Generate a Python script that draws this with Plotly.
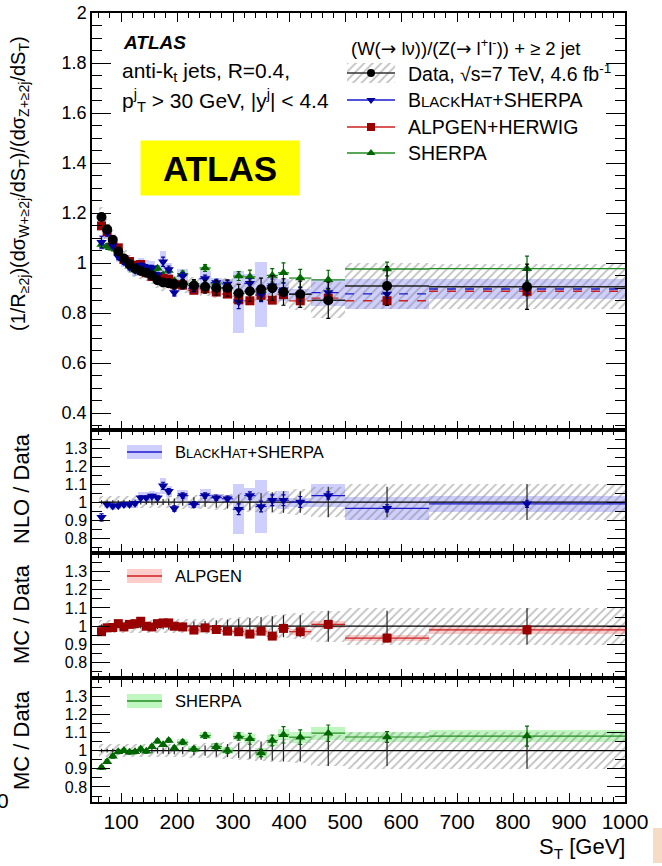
import numpy as np
import plotly.graph_objects as go

# ---------------- data ----------------
st_edges = [60, 70, 80, 90, 100, 110, 120, 130, 140, 150, 160, 170, 180, 190, 200,
            220, 240, 260, 280, 300, 320, 340, 360, 380, 400, 440, 500, 650, 1000]

data_vals = [1.184, 1.135, 1.093, 1.046, 1.018, 0.996, 0.978, 0.968, 0.961, 0.95,
             0.931, 0.922, 0.919, 0.915, 0.915, 0.91, 0.905, 0.9, 0.9, 0.879,
             0.887, 0.895, 0.9, 0.884, 0.875, 0.851, 0.908, 0.905]
data_stat_rel = [0.01, 0.01, 0.01, 0.01, 0.01, 0.011, 0.012, 0.013, 0.014, 0.015,
                 0.016, 0.017, 0.018, 0.02, 0.02, 0.026, 0.028, 0.032, 0.036, 0.04,
                 0.045, 0.05, 0.055, 0.06, 0.06, 0.085, 0.085, 0.1]
data_tot_rel = [0.035, 0.035, 0.035, 0.035, 0.035, 0.035, 0.035, 0.035, 0.035, 0.035,
                0.035, 0.035, 0.035, 0.035, 0.037, 0.038, 0.04, 0.043, 0.046, 0.05,
                0.053, 0.056, 0.06, 0.064, 0.07, 0.085, 0.1, 0.1]

nlo_over_data = [0.915, 0.987, 0.978, 0.98, 0.987, 0.987, 0.993, 1.024, 1.024, 1.033,
                 1.024, 1.09, 1.06, 0.964, 1.036, 0.987, 1.036, 1.024, 1.018, 0.96,
                 1.036, 0.975, 1.01, 1.01, 1.0, 1.036, 0.965, 0.99]
nlo_band = [0.025, 0.02, 0.02, 0.02, 0.02, 0.02, 0.025, 0.03, 0.03, 0.03,
            0.03, 0.045, 0.03, 0.02, 0.03, 0.02, 0.035, 0.02, 0.02, 0.14,
            0.04, 0.145, 0.04, 0.05, 0.025, 0.065, 0.065, 0.045]
nlo_err = [0.02, 0.01, 0.01, 0.01, 0.01, 0.01, 0.01, 0.01, 0.01, 0.01,
           0.01, 0.02, 0.015, 0.015, 0.015, 0.015, 0.015, 0.015, 0.015, 0.03,
           0.02, 0.03, 0.03, 0.03, 0.03, 0.02, 0.02, 0.02]

alp_over_data = [0.97, 0.991, 0.993, 1.014, 0.996, 1.01, 1.014, 1.027, 1.0, 0.996,
                 1.014, 1.018, 1.018, 1.0, 0.996, 0.979, 0.991, 0.982, 0.973, 0.97,
                 0.957, 0.973, 0.946, 0.988, 0.97, 1.01, 0.935, 0.98]
alp_band = [0.012] * 14 + [0.013, 0.013, 0.013, 0.014, 0.014, 0.015,
                           0.015, 0.015, 0.016, 0.016, 0.016, 0.02, 0.015, 0.02]
alp_err = [0.01] * 14 + [0.01, 0.01, 0.012, 0.012, 0.012, 0.014,
                         0.014, 0.015, 0.015, 0.016, 0.016, 0.02, 0.02, 0.02]

sh_over_data = [0.907, 0.939, 0.969, 0.994, 1.0, 0.991, 0.994, 1.009, 0.996, 1.022,
                1.052, 1.033, 1.056, 1.015, 1.046, 1.009, 1.083, 1.022, 1.0, 1.078,
                1.065, 0.987, 1.056, 1.087, 1.074, 1.096, 1.075, 1.08]
sh_band = [0.015] * 14 + [0.018, 0.018, 0.02, 0.02, 0.02, 0.022,
                          0.025, 0.025, 0.028, 0.03, 0.03, 0.035, 0.03, 0.035]
sh_err = [0.01] * 14 + [0.012, 0.012, 0.015, 0.015, 0.015, 0.02,
                        0.03, 0.02, 0.03, 0.045, 0.04, 0.045, 0.03, 0.055]

main_yticks = [0.4, 0.6, 0.8, 1.0, 1.2, 1.4, 1.6, 1.8, 2.0]
main_yticktext = ["0.4", "0.6", "0.8", "1", "1.2", "1.4", "1.6", "1.8", "2"]
ratio_yticks = [0.8, 0.9, 1.0, 1.1, 1.2, 1.3]
ratio_yticktext = ["0.8", "0.9", "1", "1.1", "1.2", "1.3"]
x_ticks = [100, 200, 300, 400, 500, 600, 700, 800, 900, 1000]

# ---------------- helpers ----------------
edges = np.array(st_edges, dtype=float)
centers = 0.5 * (edges[:-1] + edges[1:])
widths = edges[1:] - edges[:-1]
data = np.array(data_vals)

FONT = "Liberation Sans, Arial, Helvetica, sans-serif"
W, H = 662, 866
L, R, T, B = 92, 37, 13, 64
PW, PH = W - L - R, H - T - B


def px(xp):
    return (xp - L) / PW


def py(yp):
    return (H - B - yp) / PH


def segs(vals):
    xs, ys = [], []
    for lo, hi, v in zip(edges[:-1], edges[1:], vals):
        xs += [lo, hi, None]
        ys += [v, v, None]
    return xs, ys


BLUE_M = "#0000a0"
BLUE_L = "#1a1acc"
BLUE_B = "rgba(175,175,255,0.6)"
RED_M = "#990000"
RED_L = "#cc2020"
RED_B = "rgba(255,170,170,0.6)"
GRN_M = "#006600"
GRN_L = "#228b22"
GRN_B = "rgba(150,240,150,0.6)"
HATCH = dict(shape="/", fgcolor="#808080", bgcolor="rgba(0,0,0,0)", size=6, solidity=0.3)

fig = go.Figure()


def band(xa, ya, center, half, color=None, hatch=False):
    center = np.asarray(center)
    half = np.asarray(half)
    marker = dict(line=dict(width=0))
    if hatch:
        marker["color"] = "rgba(0,0,0,0)"
        marker["pattern"] = HATCH
    else:
        marker["color"] = color
    fig.add_trace(go.Bar(x=centers, width=widths, base=center - half, y=2 * half,
                         marker=marker, xaxis=xa, yaxis=ya, showlegend=False,
                         hoverinfo="skip"))


def hlines(xa, ya, vals, color, dash="solid", w=1.3):
    xs, ys = segs(vals)
    fig.add_trace(go.Scatter(x=xs, y=ys, mode="lines", line=dict(color=color, width=w, dash=dash),
                             xaxis=xa, yaxis=ya, showlegend=False, hoverinfo="skip"))


def pts(xa, ya, vals, errs, color, symbol, size=9, ecolor=None, ewidth=2):
    fig.add_trace(go.Scatter(x=centers, y=vals, mode="markers",
                             marker=dict(color=color, symbol=symbol, size=size, line=dict(width=0)),
                             error_y=dict(type="data", array=list(errs), visible=True,
                                          color=ecolor or color, thickness=1.2, width=ewidth),
                             xaxis=xa, yaxis=ya, showlegend=False, hoverinfo="skip"))


# ---------------- main panel ----------------
nlo_main = data * np.array(nlo_over_data)
alp_main = data * np.array(alp_over_data)
sh_main = data * np.array(sh_over_data)

band("x", "y", nlo_main, data * np.array(nlo_band), color=BLUE_B)
band("x", "y", data, data * np.array(data_tot_rel), hatch=True)
hlines("x", "y", sh_main, GRN_L)
hlines("x", "y", alp_main, RED_L, dash="dash")
hlines("x", "y", nlo_main, BLUE_L, dash="dash")
hlines("x", "y", data, "#222222", w=1.5)
pts("x", "y", sh_main, data * np.array(sh_err), GRN_M, "triangle-up", 9)
pts("x", "y", alp_main, data * np.array(alp_err), RED_M, "square", 9)
pts("x", "y", nlo_main, data * np.array(nlo_err), BLUE_M, "triangle-down", 9)
pts("x", "y", data, data * np.array(data_stat_rel), "black", "circle", 10)

# ---------------- ratio panels ----------------
ones = np.ones(len(centers))
for (xa, ya, rat, bnd, err, mc, lc, bc, sym) in [
    ("x2", "y2", nlo_over_data, nlo_band, nlo_err, BLUE_M, BLUE_L, BLUE_B, "triangle-down"),
    ("x3", "y3", alp_over_data, alp_band, alp_err, RED_M, RED_L, RED_B, "square"),
    ("x4", "y4", sh_over_data, sh_band, sh_err, GRN_M, GRN_L, GRN_B, "triangle-up"),
]:
    band(xa, ya, rat, bnd, color=bc)
    band(xa, ya, ones, data_tot_rel, hatch=True)
    fig.add_trace(go.Scatter(x=[edges[0], edges[-1]], y=[1, 1], mode="lines",
                             line=dict(color="black", width=1.2), xaxis=xa, yaxis=ya,
                             showlegend=False, hoverinfo="skip"))
    fig.add_trace(go.Scatter(x=centers, y=ones, mode="markers", marker=dict(size=1, color="rgba(0,0,0,0)"),
                             error_y=dict(type="data", array=list(data_stat_rel), visible=True,
                                          color="#222222", thickness=1.2, width=0),
                             xaxis=xa, yaxis=ya, showlegend=False, hoverinfo="skip"))
    hlines(xa, ya, rat, lc, w=1.2)
    pts(xa, ya, rat, err, mc, sym, 9)

# ---------------- main legend (overlay axis in panel fractions) ----------------
def fx(xp):
    return (xp - L) / PW


def fy(yp):
    return (430 - yp) / (430 - T)


leg_x0, leg_x1, leg_xc = fx(347), fx(395), fx(371)
fig.add_trace(go.Bar(x=[leg_xc], width=[leg_x1 - leg_x0], base=[fy(83)], y=[fy(63) - fy(83)],
                     marker=dict(color="rgba(0,0,0,0)", pattern=HATCH, line=dict(width=0)),
                     xaxis="x5", yaxis="y5", showlegend=False, hoverinfo="skip"))
for yy, col, lcol, sym, sz in [(73, "black", "#333333", "circle", 8),
                               (100, BLUE_M, BLUE_L, "triangle-down", 8),
                               (127, RED_M, RED_L, "square", 8),
                               (153, GRN_M, GRN_L, "triangle-up", 8)]:
    fig.add_trace(go.Scatter(x=[leg_x0, leg_x1], y=[fy(yy), fy(yy)], mode="lines",
                             line=dict(color=lcol, width=1.3), xaxis="x5", yaxis="y5",
                             showlegend=False, hoverinfo="skip"))
    fig.add_trace(go.Scatter(x=[leg_xc], y=[fy(yy)], mode="markers",
                             marker=dict(color=col, symbol=sym, size=sz),
                             xaxis="x5", yaxis="y5", showlegend=False, hoverinfo="skip"))

# ---------------- layout ----------------
D_MAIN = [py(430), 1.0]
D_R1 = [py(553), py(430)]
D_R2 = [py(678), py(553)]
D_R3 = [0.0, py(678)]

common_x = dict(range=[48, 1000], ticks="inside", tickvals=x_ticks, ticklen=9, tickwidth=1,
                tickcolor="black", mirror="allticks", showline=True, linecolor="black",
                linewidth=1.5, showgrid=False, zeroline=False, automargin=False,
                minor=dict(dtick=20, tick0=0, ticks="inside", ticklen=5, tickcolor="black",
                           tickwidth=1, showgrid=False))
common_y = dict(ticks="inside", tickwidth=1, tickcolor="black", mirror="allticks", showline=True,
                linecolor="black", linewidth=1.5, showgrid=False, zeroline=False, automargin=False)

layout = dict(
    width=W, height=H, margin=dict(l=L, r=R, t=T, b=B, pad=0, autoexpand=False),
    autosize=False,
    paper_bgcolor="white", plot_bgcolor="rgba(0,0,0,0)",
    barmode="overlay", bargap=0, showlegend=False,
    font=dict(family=FONT, color="black"),
    xaxis=dict(common_x, anchor="y", showticklabels=False),
    xaxis2=dict(common_x, anchor="y2", showticklabels=False),
    xaxis3=dict(common_x, anchor="y3", showticklabels=False),
    xaxis4=dict(common_x, anchor="y4", showticklabels=True, tickfont=dict(size=21, family=FONT)),
    yaxis=dict(common_y, domain=D_MAIN, range=[0.332, 2.0], tickvals=main_yticks,
               ticktext=main_yticktext, ticklen=19, tickfont=dict(size=18, family=FONT),
               minor=dict(dtick=0.05, tick0=0, ticks="inside", ticklen=10, tickcolor="black",
                          tickwidth=1, showgrid=False)),
    xaxis5=dict(domain=[0, 1], range=[0, 1], visible=False, anchor="y5", fixedrange=True),
    yaxis5=dict(domain=D_MAIN, range=[0, 1], visible=False, anchor="x5", fixedrange=True),
)
for name, dom in [("yaxis2", D_R1), ("yaxis3", D_R2), ("yaxis4", D_R3)]:
    layout[name] = dict(common_y, domain=dom, range=[0.717, 1.40], tickvals=ratio_yticks,
                        ticktext=ratio_yticktext, ticklen=18, tickfont=dict(size=16, family=FONT),
                        minor=dict(dtick=0.05, tick0=0, ticks="inside", ticklen=10,
                                   tickcolor="black", tickwidth=1, showgrid=False))
fig.update_layout(**layout)

ann = []


def text(xp, yp, t, size, xanchor="left", angle=0, **kw):
    ann.append(dict(x=px(xp), y=py(yp), xref="paper", yref="paper", text=t, showarrow=False,
                    xanchor=xanchor, yanchor="middle", textangle=angle,
                    font=dict(size=size, family=FONT, color="black"), **kw))


ARROW = "<span style='font-family:DejaVu Sans'>\u2192</span>"

# main panel texts
text(121, 42, "<b><i>ATLAS</i></b>", 19)
text(120, 72, "anti-k<sub>t</sub> jets, R=0.4,", 21)
text(120, 100, "p<sup>j</sup><sub>T</sub> > 30 GeV, |y<sup>j</sup>| < 4.4", 21)
ann.append(dict(x=px(220), y=py(168), xref="paper", yref="paper", text="<b>ATLAS</b>",
                showarrow=False, xanchor="center", yanchor="middle", bgcolor="#ffff00",
                width=156, height=52, font=dict(size=35, family=FONT, color="black")))

# main legend texts
text(465, 47, "(W(" + ARROW + " l\u03bd))/(Z(" + ARROW + " l<sup>+</sup>l<sup>-</sup>)) + \u2265 2 jet", 18.5,
     xanchor="center")
text(406, 73, "Data, \u221as=7 TeV, 4.6 fb<sup>-1</sup>", 19.5)
SC = "B<span style='font-size:{s}px'>LACK</span>H<span style='font-size:{s}px'>AT</span>+SHERPA"
text(406, 100, SC.format(s=15), 19.5)
text(406, 127, "ALPGEN+HERWIG", 19.5)
text(406, 153, "SHERPA", 19.5)

# ratio legends
shapes = []
for yc, bc, lc, lab in [(452, BLUE_B, BLUE_L, SC.format(s=13)), (576, RED_B, RED_L, "ALPGEN"),
                        (701, GRN_B, GRN_L, "SHERPA")]:
    shapes.append(dict(type="rect", xref="paper", yref="paper", x0=px(127), x1=px(162),
                       y0=py(yc + 7), y1=py(yc - 7), fillcolor=bc, line=dict(width=0), layer="above"))
    shapes.append(dict(type="line", xref="paper", yref="paper", x0=px(127), x1=px(162),
                       y0=py(yc), y1=py(yc), line=dict(color=lc, width=1.5), layer="above"))
    text(173, yc, lab, 16.5)

# axis titles
text(20, 184, "(1/R<sub>\u22652j</sub>)(d\u03c3<sub>W+\u22652j</sub>/dS<sub>T</sub>)/(d\u03c3<sub>Z+\u22652j</sub>/dS<sub>T</sub>)",
     20, xanchor="center", angle=-90)
text(21, 489, "NLO / Data", 22, xanchor="center", angle=-90)
text(21, 614, "MC / Data", 22, xanchor="center", angle=-90)
text(21, 740, "MC / Data", 22, xanchor="center", angle=-90)
text(627, 848, "S<sub>T</sub> [GeV]", 22, xanchor="right")
text(3, 800, "0", 21, xanchor="center")

# small stray box bottom right
shapes.append(dict(type="rect", xref="paper", yref="paper", x0=px(653), x1=px(663),
                   y0=py(863), y1=py(828), fillcolor="#f6dcc6", line=dict(width=0)))

fig.update_layout(annotations=ann, shapes=shapes)
fig.write_html("out.html", config={"displayModeBar": False},
               post_script="document.body.style.margin='0';document.body.style.padding='0';"
                           "document.documentElement.style.overflow='hidden';")
